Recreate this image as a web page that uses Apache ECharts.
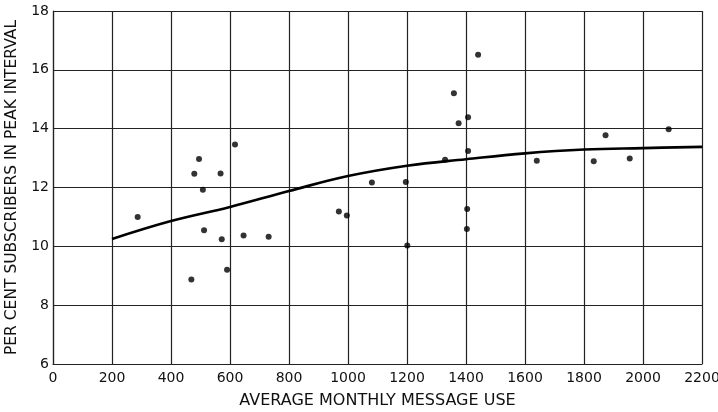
<!DOCTYPE html>
<html>
<head>
<meta charset="utf-8">
<script src="https://cdn.jsdelivr.net/npm/echarts@6/dist/echarts.min.js"></script>
<style>html,body{margin:0;padding:0;background:#fff;}#c{width:718px;height:412px;}</style>
</head>
<body>
<div id="c"></div>
<script>
const xTitle = 'AVERAGE MONTHLY MESSAGE USE';
const yTitle = 'PER CENT SUBSCRIBERS IN PEAK INTERVAL';
const pointX = [287, 469, 479, 495, 508, 512, 568, 572, 590, 617, 646, 731, 969, 996, 1081, 1196, 1201, 1329, 1359, 1375, 1403, 1404, 1407, 1407, 1441, 1640, 1833, 1873, 1955, 2087];
const pointY = [11.0, 8.87, 12.47, 12.97, 11.92, 10.55, 12.48, 10.24, 9.2, 13.46, 10.37, 10.33, 11.18, 11.05, 12.17, 12.19, 10.03, 12.94, 15.2, 14.18, 10.59, 11.27, 14.39, 13.24, 16.51, 12.91, 12.89, 13.78, 12.99, 13.98];
const curveX = [200, 400, 600, 800, 1000, 1200, 1400, 1600, 1800, 2000, 2200];
const curveY = [10.25, 10.86, 11.34, 11.88, 12.39, 12.74, 12.96, 13.16, 13.29, 13.34, 13.38];

const chart = echarts.init(document.getElementById('c'), null, {renderer: 'canvas'});
const font = 'DejaVu Sans, Liberation Sans, sans-serif';
chart.setOption({
  animation: false,
  backgroundColor: '#fff',
  grid: {left: 53, right: 16, top: 11, bottom: 48, show: false, containLabel: false, outerBoundsMode: 'none'},
  xAxis: {
    type: 'value', min: 0, max: 2200, interval: 200,
    name: xTitle, nameLocation: 'middle', nameGap: 29,
    nameTextStyle: {color: '#111', fontSize: 16, fontFamily: font},
    axisLine: {show: true, lineStyle: {color: '#222', width: 1.2}},
    axisTick: {show: false},
    axisLabel: {color: '#111', fontSize: 14, fontFamily: font, margin: 7, formatter: v => String(v)},
    splitLine: {show: true, lineStyle: {color: '#222', width: 1.2}}
  },
  yAxis: {
    type: 'value', min: 6, max: 18, interval: 2,
    name: yTitle, nameLocation: 'middle', nameGap: 30,
    nameTextStyle: {color: '#111', fontSize: 15.5, fontFamily: font},
    axisLine: {show: true, lineStyle: {color: '#222', width: 1.2}},
    axisTick: {show: false},
    axisLabel: {color: '#111', fontSize: 14, fontFamily: font, margin: 4, formatter: v => String(v)},
    splitLine: {show: true, lineStyle: {color: '#222', width: 1.2}}
  },
  series: [
    {
      type: 'line', smooth: 0.4, symbol: 'none',
      data: curveX.map((x, i) => [x, curveY[i]]),
      lineStyle: {color: '#000', width: 2.6}
    },
    {
      type: 'scatter', symbolSize: 6,
      data: pointX.map((x, i) => [x, pointY[i]]),
      itemStyle: {color: '#000'}
    }
  ]
});
</script>
</body>
</html>
